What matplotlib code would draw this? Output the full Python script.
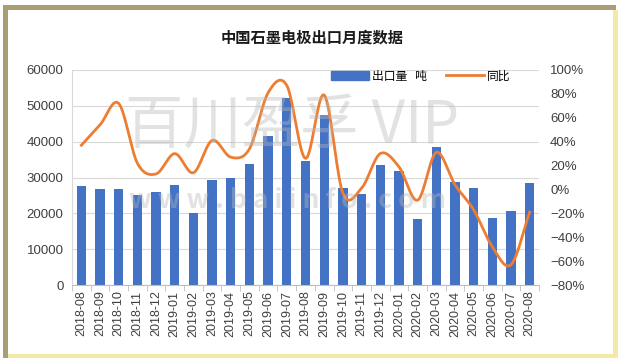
import numpy as np
import matplotlib
matplotlib.use("Agg")
import matplotlib.pyplot as plt
from matplotlib.patches import Rectangle
from matplotlib.lines import Line2D
from matplotlib.patches import Patch

plt.rcParams['font.family'] = ['Noto Sans CJK SC', 'DejaVu Sans']

months = ["2018-08", "2018-09", "2018-10", "2018-11", "2018-12",
          "2019-01", "2019-02", "2019-03", "2019-04", "2019-05", "2019-06",
          "2019-07", "2019-08", "2019-09", "2019-10", "2019-11", "2019-12",
          "2020-01", "2020-02", "2020-03", "2020-04", "2020-05", "2020-06",
          "2020-07", "2020-08"]
export_t = [27500, 26800, 26800, 25100, 26000, 28000, 20100, 29300, 29900,
            33800, 41600, 52200, 34600, 47400, 27000, 25400, 33500, 31800,
            18400, 38500, 28700, 27000, 18700, 20600, 28400]
yoy_pct = [37, 54, 72, 22, 13, 30, 14, 41, 27, 34, 81, 87, 26, 79, -3, 1,
           30, 19, -9, 31, 4, -17, -48, -63, -19]

title = "中国石墨电极出口月度数据"
bar_label = "出口量   吨"
line_label = "同比"

BLUE = "#4472C4"
ORANGE = "#ED7D31"
TICKFONT = ['Liberation Sans', 'DejaVu Sans']


def catmull_rom(x, y, n=20):
    x = np.asarray(x, float)
    y = np.asarray(y, float)
    px = np.concatenate([[2 * x[0] - x[1]], x, [2 * x[-1] - x[-2]]])
    py = np.concatenate([[2 * y[0] - y[1]], y, [2 * y[-1] - y[-2]]])
    xs, ys = [], []
    t = np.linspace(0, 1, n, endpoint=False)
    for i in range(1, len(px) - 2):
        for P, out in ((px, xs), (py, ys)):
            p0, p1, p2, p3 = P[i - 1], P[i], P[i + 1], P[i + 2]
            out.extend(0.5 * ((2 * p1) + (-p0 + p2) * t
                              + (2 * p0 - 5 * p1 + 4 * p2 - p3) * t ** 2
                              + (-p0 + 3 * p1 - 3 * p2 + p3) * t ** 3))
    xs.append(x[-1]); ys.append(y[-1])
    return np.array(xs), np.array(ys)


W, H = 624, 361
fig = plt.figure(figsize=(W / 100, H / 100), dpi=100)
fig.patch.set_facecolor("white")

# frame
dark = "#a89f75"
light = "#f3eaaa"
fig.add_artist(Rectangle((3 / W, 1 - 10 / H), (616 - 3) / W, 5 / H, transform=fig.transFigure, color=dark, lw=0))
fig.add_artist(Rectangle((3 / W, 1 - 358 / H), 5 / W, (358 - 5) / H, transform=fig.transFigure, color=dark, lw=0))
fig.add_artist(Rectangle((613 / W, 1 - 358 / H), 5 / W, (358 - 10) / H, transform=fig.transFigure, color=light, lw=0))
fig.add_artist(Rectangle((8 / W, 1 - 358 / H), (613 - 8) / W, 4 / H, transform=fig.transFigure, color=light, lw=0))

ax = fig.add_axes([72 / W, 1 - 285 / H, 467 / W, 215 / H])
ax2 = ax.twinx()

x = np.arange(len(months))
ax.bar(x, export_t, width=0.5, color=BLUE, zorder=2)
ax.set_ylim(0, 60000)
ax.set_yticks(np.arange(0, 60001, 10000))
ax.set_xlim(-0.5, len(months) - 0.5)
ax.set_xticks(x)
ax.set_xticklabels(months, rotation=90, fontsize=9, color="#404040", family=TICKFONT)
for lab in ax.get_yticklabels():
    lab.set_family(TICKFONT)
ax.set_xticks(np.arange(-0.5, len(months), 1), minor=True)
ax.tick_params(axis="x", which="major", length=0, pad=4)
ax.tick_params(axis="x", which="minor", length=4, color="#bfbfbf")
ax.tick_params(axis="y", length=0, labelsize=9.5, colors="#404040", pad=6)
ax.grid(axis="y", color="#d9d9d9", lw=0.8, zorder=0)
ax.set_axisbelow(True)
for s in ["top", "right"]:
    ax.spines[s].set_visible(False)
ax.spines["left"].set_color("#d9d9d9")
ax.spines["bottom"].set_color("#bfbfbf")

sx, sy = catmull_rom(x, yoy_pct)
ax2.plot(sx, sy, color=ORANGE, lw=2, zorder=3)
ax2.set_ylim(-80, 100)
ax2.set_yticks(np.arange(-80, 101, 20))
ax2.set_yticklabels([f"{v}%".replace("-", "−") for v in range(-80, 101, 20)],
                    family=TICKFONT)
ax2.tick_params(axis="y", length=0, labelsize=9.5, colors="#404040", pad=8)
for s in ["top", "right", "left", "bottom"]:
    ax2.spines[s].set_visible(False)

# watermark
fig.text(292 / W, 1 - 127 / H, "百川盈孚 VIP", fontsize=42, color="#b8b8b8",
         alpha=0.4, ha="center", va="center", zorder=5, fontweight="light")
fig.text(288 / W, 1 - 200 / H, "w w w . b a i i n f o . c o m", fontsize=19,
         color="#b8b8b8", alpha=0.4, ha="center", va="center", zorder=5,
         fontweight="bold")

fig.text(312 / W, 1 - 38 / H, title, fontsize=11, fontweight="bold",
         ha="center", va="center", color="#1a1a1a")

handles = [Patch(color=BLUE), Line2D([0], [0], color=ORANGE, lw=2)]
ax2.legend(handles, [bar_label, line_label], loc="upper right",
           bbox_to_anchor=(0.955, 1.035), ncol=2, frameon=False, fontsize=8.5,
           handlelength=3.2, columnspacing=1.6, handletextpad=0.3,
           borderaxespad=0.2)

fig.savefig("out.png", dpi=100)
